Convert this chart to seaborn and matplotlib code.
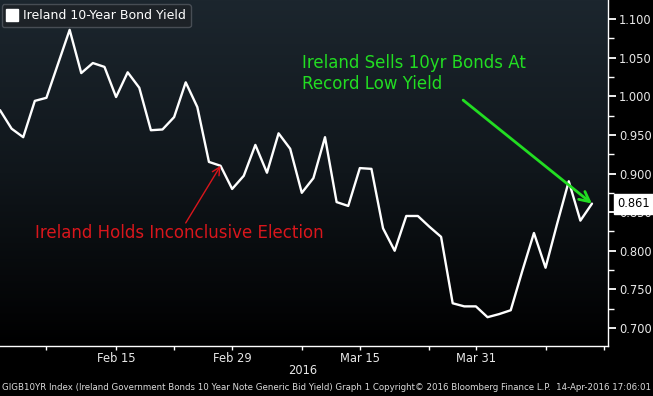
import numpy as np
import pandas as pd
import matplotlib
matplotlib.use("Agg")
import matplotlib.pyplot as plt
from matplotlib.colors import LinearSegmentedColormap
from matplotlib.lines import Line2D
from matplotlib.ticker import MultipleLocator
import seaborn as sns

# ---------------- data ----------------
holidays = ["2016-03-25", "2016-03-28"]
dates = [d for d in pd.bdate_range("2016-02-01", "2016-04-14")
         if d.strftime("%Y-%m-%d") not in holidays]

yields = [0.982, 0.958, 0.947, 0.994, 0.998, 1.042, 1.086, 1.030, 1.043, 1.038,
          0.999, 1.031, 1.011, 0.956, 0.957, 0.973, 1.018, 0.986, 0.915, 0.910,
          0.880, 0.897, 0.937, 0.901, 0.952, 0.932, 0.875, 0.894, 0.947, 0.863,
          0.858, 0.907, 0.906, 0.829, 0.800, 0.845, 0.845, 0.831, 0.818, 0.732,
          0.728, 0.728, 0.714, 0.718, 0.723, 0.774, 0.823, 0.778, 0.835, 0.890,
          0.839, 0.861]

series_name = "Ireland 10-Year Bond Yield"
label_dates = ["2016-02-15", "2016-02-29", "2016-03-15", "2016-03-31"]
label_texts = ["Feb 15", "Feb 29", "Mar 15", "Mar 31"]
minor_tick_pos = [4, 15, 26, 37, 47, 52]
y_ticks = [0.700, 0.750, 0.800, 0.850, 0.900, 0.950, 1.000, 1.050, 1.100]
year_label = "2016"
election_idx = 19
election_text = "Ireland Holds Inconclusive Election"
sale_text = "Ireland Sells 10yr Bonds At\nRecord Low Yield"
footer = ("GIGB10YR Index (Ireland Government Bonds 10 Year Note Generic Bid Yield) "
          "Graph 1 Copyright\u00a9 2016 Bloomberg Finance L.P.  14-Apr-2016 17:06:01")

df = pd.DataFrame({"t": np.arange(len(yields)), "yield": yields,
                   "date": dates})

# ---------------- style ----------------
sns.set_theme(style="dark")
plt.rcParams["font.family"] = ["DejaVu Sans"]

W, H = 653, 396
fig = plt.figure(figsize=(W / 100, H / 100), dpi=100, facecolor="black")
ax = fig.add_axes([0, 1 - 346 / H, 608 / W, 346 / H])
ax.set_facecolor("black")

# gradient background
cmap = LinearSegmentedColormap.from_list("bg", ["#1c262e", "#10161b", "#000000"])
grad = np.linspace(0, 1, 256).reshape(-1, 1)
ax.imshow(grad, cmap=cmap, extent=(0, 1, 0, 1), transform=ax.transAxes,
          aspect="auto", zorder=0, interpolation="bilinear")

sns.lineplot(data=df, x="t", y="yield", ax=ax, color="white", lw=1.7,
             legend=False, zorder=3)

ax.set_xlim(0, 52.38)
ax.set_ylim(0.6767, 1.1246)
ax.set_xlabel("")
ax.set_ylabel("")
ax.grid(False)

for s in ["left", "top"]:
    ax.spines[s].set_visible(False)
for s in ["right", "bottom"]:
    ax.spines[s].set_visible(True)
    ax.spines[s].set_color("white")
    ax.spines[s].set_linewidth(1.0)

# y axis on right
ax.yaxis.tick_right()
ax.set_yticks(y_ticks)
ax.set_yticklabels([f"{v:.3f}" for v in y_ticks])
ax.yaxis.set_minor_locator(MultipleLocator(0.025))
ax.tick_params(axis="y", which="major", length=6, width=1.3, color="white",
               labelcolor="#e8e8e8", labelsize=8.3, pad=2, direction="out",
               right=True, left=False)
ax.tick_params(axis="y", which="minor", length=4, width=1, color="white",
               right=True, left=False)

# x axis
label_pos = [df.index[df["date"] == pd.Timestamp(d)][0] for d in label_dates]
ax.set_xticks(label_pos)
ax.set_xticklabels(label_texts)
ax.set_xticks(minor_tick_pos, minor=True)
ax.tick_params(axis="x", which="major", length=3, width=1, color="white",
               labelcolor="#e8e8e8", labelsize=8.3, pad=1.5, bottom=True)
ax.tick_params(axis="x", which="minor", length=3, width=1, color="white",
               bottom=True)

# legend
handle = Line2D([], [], marker="s", color="none", markerfacecolor="white",
                markeredgecolor="white", markersize=8.5, linestyle="none")
leg = ax.legend([handle], [series_name], loc="upper left",
                bbox_to_anchor=(0.003, 0.988), frameon=True, fancybox=True,
                facecolor="#1d2227", edgecolor="#474d54", framealpha=1,
                labelcolor="white", fontsize=9.0, handlelength=0.9,
                handletextpad=0.4, borderpad=0.4, borderaxespad=0.0)
leg.get_frame().set_linewidth(1.0)

# last-value tag (sits over the 0.850 label, as in the original)
ax.annotate(f"{yields[-1]:.3f}", xy=(1, yields[-1]),
            xycoords=("axes fraction", "data"),
            xytext=(6.5, 0), textcoords="offset points", ha="left", va="center",
            fontsize=8.3, color="black", annotation_clip=False, zorder=6,
            bbox=dict(boxstyle="square,pad=0.3", fc="white", ec="white"))

# annotations
red = "#d9161c"
green = "#22dd22"
ax.annotate("", xy=(election_idx, yields[election_idx]), xytext=(16.0, 0.836),
            arrowprops=dict(arrowstyle="->", color=red, lw=1.0,
                            mutation_scale=14, shrinkA=0, shrinkB=0), zorder=5)
ax.text(3.0, 0.823, election_text, color=red, fontsize=12.0,
        ha="left", va="center", zorder=5)

ax.annotate("", xy=(len(yields) - 1, yields[-1]), xytext=(39.9, 0.995),
            arrowprops=dict(arrowstyle="->", color=green, lw=2.0,
                            mutation_scale=18, shrinkA=0, shrinkB=0), zorder=5)
ax.text(26.0, 1.029, sale_text, color=green, fontsize=12.0, ha="left",
        va="center", linespacing=1.2, zorder=5)

# year label and footer
fig.text(303 / W, 1 - 371 / H, year_label, color="#e8e8e8", fontsize=8.3,
         ha="center", va="center")
fig.text(2 / W, 1 - 387 / H, footer, color="#dcdcdc", fontsize=6.2,
         ha="left", va="center")

fig.savefig("out.png", dpi=100, facecolor="black")
